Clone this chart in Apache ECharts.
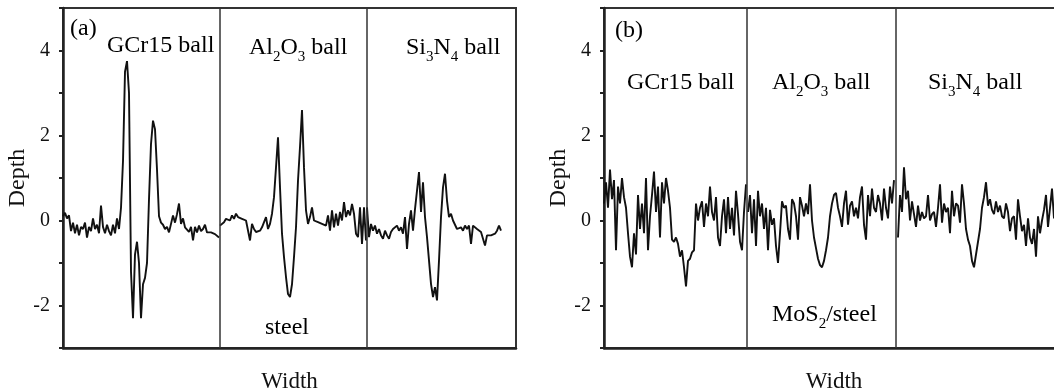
<!DOCTYPE html>
<html>
<head>
<meta charset="utf-8">
<script src="https://cdn.jsdelivr.net/npm/echarts@6/dist/echarts.min.js"></script>
<style>
  html, body { margin: 0; background: #fff; }
  #chart { width: 1054px; height: 391px; }
</style>
</head>
<body>
<div id="chart"></div>
<script>
// profile depth, one value every 2 width units
const step = 2;

// panel (a) - steel disc, one array per ball
const a1Depth = [0.10, 0.18, 0.05, 0.12, -0.25, -0.05, -0.30, -0.10, -0.35, -0.15,
  -0.20, -0.05, -0.40, -0.15, -0.25, 0.05, -0.20, -0.10, -0.30, 0.35,
  -0.15, -0.30, -0.10, -0.25, -0.35, -0.10, -0.30, 0.05, -0.20, 0.30,
  1.40, 3.50, 3.75, 3.00, -1.20, -2.30, -0.80, -0.50, -1.00, -2.30,
  -1.50, -1.35, -1.00, 0.50, 1.80, 2.35, 2.15, 1.20, 0.10, -0.05,
  -0.10, -0.20, -0.15, -0.28, -0.30, 0.12, -0.05, 0.15, 0.40, -0.08,
  0.05, -0.16, -0.12, -0.27, -0.15, -0.47, -0.15, -0.28, -0.12, -0.25,
  -0.20, -0.10, -0.28, -0.25, -0.28, -0.28, -0.32, -0.35, -0.40];
const a2Depth = [-0.12, -0.08, -0.04, 0.04, 0.00, 0.00, 0.12, 0.04, 0.16, 0.08,
  0.12, 0.04, 0.08, 0.00, 0.04, -0.47, -0.08, -0.20, -0.27, -0.31,
  -0.24, -0.16, -0.20, 0.08, -0.20, -0.08, 0.16, 0.55, 1.25, 1.96,
  0.78, -0.31, -0.86, -1.33, -1.73, -1.80, -1.50, -0.86, -0.16, 0.94,
  1.73, 2.60, 1.25, 0.24, -0.08, 0.08, 0.31, 0.00, 0.04, -0.04,
  0.00, -0.08, -0.04, -0.12, 0.12, -0.24, 0.24, -0.16, 0.16, -0.12,
  0.20, 0.00, 0.43, 0.08, 0.24, 0.12, 0.39, 0.16, -0.31, -0.39,
  0.31, -0.55, 0.31, -0.47];
const a3Depth = [0.31, -0.39, -0.08, -0.24, -0.12, -0.31, -0.20, -0.35, -0.43, -0.24,
  -0.35, -0.43, -0.27, -0.20, -0.24, -0.12, -0.24, -0.16, -0.31, 0.08,
  -0.67, -0.08, 0.24, -0.24, 0.27, 0.31, 1.14, 0.20, 0.90, 0.08,
  -0.39, -0.94, -1.49, -1.80, -1.57, -1.88, -0.94, 0.08, 0.78, 1.10,
  0.47, 0.08, 0.16, 0.00, -0.04, -0.20, -0.24, -0.16, -0.24, -0.12,
  -0.20, -0.12, -0.55, -0.12, -0.16, -0.20, -0.20, -0.27, -0.31, -0.59,
  -0.35, -0.39, -0.35, -0.35, -0.31, -0.24, -0.12, -0.24];

// panel (b) - MoS2 coated steel
const b1Depth = [0.40, 0.90, 0.30, 1.20, 0.50, 0.95, -0.70, 0.80, 0.40, 1.00,
  0.55, 0.30, -0.30, -0.85, -1.10, -0.30, -0.80, 0.60, -0.20, 0.40,
  -0.30, 1.00, -0.70, 0.10, 0.60, 1.15, 0.20, 0.80, -0.40, 0.90,
  0.40, 1.00, 0.70, 0.30, -0.45, -0.50, -0.40, -0.55, -0.85, -0.70,
  -1.10, -1.55, -0.95, -0.90, -0.75, -0.70, 0.40, 0.00, 0.30, 0.45,
  -0.15, 0.40, 0.10, 0.80, 0.20, 0.00, 0.55, -0.40, -0.60, 0.10,
  0.50, -0.30, 0.55, -0.20, 0.30, -0.35, 0.70, 0.15, -0.50, -0.70,
  0.20, 0.85];
const b2Depth = [0.20, 0.60, -0.30, 0.50, -0.60, 0.70, 0.10, 0.40, -0.20, 0.30,
  -0.70, 0.25, -0.10, 0.05, -0.60, -1.00, -0.30, 0.45, 0.30, 0.35,
  -0.20, -0.45, 0.50, 0.40, 0.10, -0.45, 0.55, 0.35, 0.10, 0.40,
  0.15, 0.85, 0.00, -0.40, -0.65, -0.90, -1.05, -1.10, -0.95, -0.70,
  -0.40, 0.10, 0.40, 0.60, 0.65, 0.30, 0.10, -0.15, 0.40, 0.70,
  -0.10, 0.35, 0.45, 0.10, 0.30, 0.05, 0.55, 0.80, -0.10, -0.45,
  0.60, 0.10, 0.75, 0.30, 0.20, 0.60, 0.40, 0.00, 0.75, 0.30,
  0.05, 0.80, 0.40, 0.95];
const b3Depth = [-0.40, 0.60, 0.20, 1.25, 0.50, 0.70, 0.00, 0.45, 0.15, -0.15,
  0.35, 0.00, 0.20, 0.05, 0.10, 0.60, 0.00, 0.15, 0.20, -0.15,
  0.30, 0.85, -0.05, 0.40, 0.20, 0.30, -0.30, 0.70, 0.10, 0.40,
  0.35, -0.05, 0.85, 0.40, -0.20, -0.45, -0.60, -0.95, -1.10, -0.80,
  -0.50, -0.20, 0.30, 0.55, 0.90, 0.35, 0.50, 0.25, 0.15, 0.45,
  0.20, 0.35, 0.10, 0.05, 0.40, 0.20, -0.25, 0.05, 0.10, -0.45,
  0.50, 0.10, -0.25, -0.10, -0.60, 0.05, -0.40, -0.55, -0.20, -0.85,
  0.10, -0.30, 0.00, 0.25, 0.60, -0.15, 0.30, 0.75, 0.05];

// where each scan starts along the width, and the section borders
const aStarts = [0, 157, 304];
const bStarts = [0, 144, 294];
const aDividers = [157, 304];
const bDividers = [143, 292];
const aWidthMax = 453;
const bWidthMax = 460;
const depthLabels = [-2, 0, 2, 4];

const font = '"Liberation Serif", "Times New Roman", serif';
const ink = '#111';

function toPoints(depths, start) {
  return depths.map((d, i) => [start + i * step, d]);
}

function xAxisFor(idx, max) {
  return {
    gridIndex: idx,
    type: 'value',
    min: 0,
    max: max,
    name: 'Width',
    nameLocation: 'middle',
    nameGap: 22,
    nameTextStyle: { fontFamily: font, fontSize: 23, color: ink },
    axisLine: { onZero: false, lineStyle: { color: '#222', width: 2.5 } },
    axisTick: { show: false },
    axisLabel: { show: false },
    splitLine: { show: false },
  };
}

function yAxisFor(idx) {
  return {
    gridIndex: idx,
    type: 'value',
    min: -3,
    max: 5,
    interval: 1,
    name: 'Depth',
    nameLocation: 'middle',
    nameGap: 25,
    nameTextStyle: { fontFamily: font, fontSize: 24, color: ink },
    axisLine: { show: true, onZero: false, lineStyle: { color: '#222', width: 2.5 } },
    axisTick: { show: true, length: 4, lineStyle: { color: '#222', width: 2 } },
    axisLabel: {
      margin: 13,
      fontFamily: font,
      fontSize: 20,
      color: ink,
      formatter: (v) => (depthLabels.includes(v) ? String(v) : ''),
    },
    splitLine: { show: false },
  };
}

function profileSeries(depths, start, idx, dividers) {
  const s = {
    type: 'line',
    xAxisIndex: idx,
    yAxisIndex: idx,
    data: toPoints(depths, start),
    showSymbol: false,
    silent: true,
    lineStyle: { color: ink, width: 1.9 },
  };
  if (dividers) {
    s.markLine = {
      silent: true,
      symbol: 'none',
      label: { show: false },
      lineStyle: { color: '#333', width: 1.5, type: 'solid' },
      data: dividers.map((x) => ({ xAxis: x })),
    };
  }
  return s;
}

const rich = {
  n: { fontFamily: font, fontSize: 24, color: ink, lineHeight: 24, verticalAlign: 'top' },
  s: { fontFamily: font, fontSize: 15, color: ink, lineHeight: 15, verticalAlign: 'top', padding: [14, 0, 0, 0] },
};

function note(x, y, text, align) {
  return {
    type: 'text',
    x: x,
    y: y,
    silent: true,
    style: { text: text, rich: rich, align: align || 'left', verticalAlign: 'top' },
  };
}

const chart = echarts.init(document.getElementById('chart'));
chart.setOption({
  animation: false,
  backgroundColor: '#fff',
  grid: [
    { left: 63, top: 8, width: 453, height: 340, outerBoundsMode: 'none', show: true, borderColor: '#333', borderWidth: 2 },
    { left: 604, top: 8, width: 460, height: 340, outerBoundsMode: 'none', show: true, borderColor: '#333', borderWidth: 2 },
  ],
  xAxis: [xAxisFor(0, aWidthMax), xAxisFor(1, bWidthMax)],
  yAxis: [yAxisFor(0), yAxisFor(1)],
  series: [
    profileSeries(a1Depth, aStarts[0], 0, aDividers),
    profileSeries(a2Depth, aStarts[1], 0),
    profileSeries(a3Depth, aStarts[2], 0),
    profileSeries(b1Depth, bStarts[0], 1, bDividers),
    profileSeries(b2Depth, bStarts[1], 1),
    profileSeries(b3Depth, bStarts[2], 1),
  ],
  graphic: [
    note(70, 17, '{n|(a)}'),
    note(107, 34, '{n|GCr15 ball}'),
    note(249, 36, '{n|Al}{s|2}{n|O}{s|3}{n| ball}'),
    note(406, 36, '{n|Si}{s|3}{n|N}{s|4}{n| ball}'),
    note(287, 316, '{n|steel}', 'center'),
    note(615, 19, '{n|(b)}'),
    note(627, 71, '{n|GCr15 ball}'),
    note(772, 71, '{n|Al}{s|2}{n|O}{s|3}{n| ball}'),
    note(928, 71, '{n|Si}{s|3}{n|N}{s|4}{n| ball}'),
    note(772, 303, '{n|MoS}{s|2}{n|/steel}'),
  ],
});
</script>
</body>
</html>
